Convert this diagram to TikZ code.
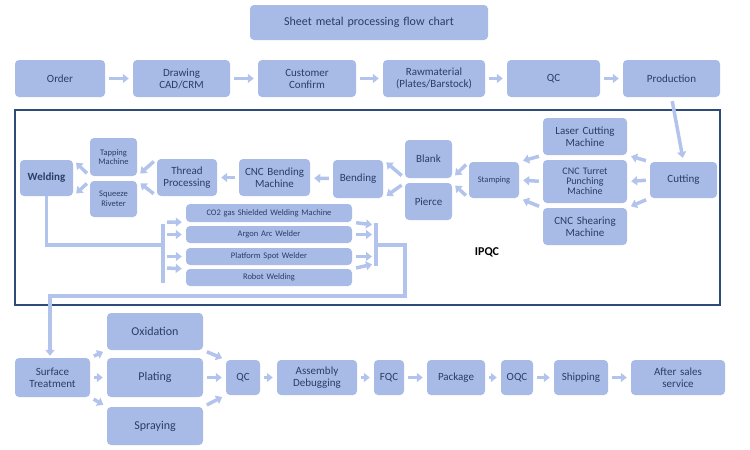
\documentclass[tikz,border=0pt]{standalone}
\usepackage{fontspec}
\setmainfont{Carlito}
\usetikzlibrary{arrows.meta}
\definecolor{bx}{HTML}{A7BBE6}
\definecolor{tx}{HTML}{2A3D66}
\definecolor{ar}{HTML}{B3C4EC}
\definecolor{fr}{HTML}{2E4A78}
\begin{document}
\begin{tikzpicture}[x=1pt,y=-1pt,
  b/.style={fill=bx,draw=none,rounded corners=4pt,text=tx,align=center,font=\fontsize{11}{12}\selectfont,inner sep=1pt},
  sm/.style={font=\fontsize{8.5}{9.5}\selectfont},
  arr/.style={draw=ar,line width=3.5pt,-{Triangle[width=9pt,length=6pt]},shorten >=4pt,shorten <=4pt},
  ln/.style={draw=ar,line width=3.5pt}]
\useasboundingbox (0,0) rectangle (750,450);
\newcommand{\bx}[6]{\node[b,#6,minimum width=#4-#2,minimum height=#5-#3] (#1) at ({(#2+#4)/2},{(#3+#5)/2}) {};}
\newcommand{\B}[7]{\node[b,#7,minimum width=#4-#2,minimum height=#5-#3,text width=#4-#2-2] (#1) at ({(#2+#4)/2},{(#3+#5)/2}) {#6};}
\B{title}{250}{5}{488}{40}{Sheet metal processing flow chart}{font=\fontsize{12}{13}\selectfont}
\B{order}{15}{60}{105}{97}{Order}{}
\B{draw}{133}{60}{230}{97}{Drawing\\CAD/CRM}{}
\B{cust}{258}{60}{356}{97}{Customer\\Confirm}{}
\B{raw}{383}{60}{485}{97}{Rawmaterial\\(Plates/Barstock)}{}
\B{qc1}{507}{60}{600}{97}{QC}{}
\B{prod}{623}{60}{720}{97}{Production}{}
\foreach \a/\c in {order/draw,draw/cust,cust/raw,raw/qc1,qc1/prod} \draw[arr] (\a) -- (\c);
\draw[fr,line width=1.6pt] (15,110) rectangle (720,305);
\B{cut}{650}{162}{717}{198}{Cutting}{}
\B{laser}{543}{118}{627}{155}{Laser Cutting\\Machine}{}
\B{turret}{543}{160}{627}{203}{CNC Turret\\Punching\\Machine}{font=\fontsize{10}{10}\selectfont}
\B{shear}{543}{208}{627}{245}{CNC Shearing\\Machine}{}
\B{stamp}{469}{162}{519}{198}{Stamping}{sm}
\B{blank}{405}{140}{452}{178}{Blank}{}
\B{pierce}{405}{183}{452}{220}{Pierce}{}
\B{bend}{333}{160}{383}{198}{Bending}{}
\B{cncb}{239}{159}{310}{196}{CNC Bending\\Machine}{}
\B{thread}{157}{159}{217}{196}{Thread\\Processing}{}
\B{tap}{90}{138}{137}{176}{Tapping\\Machine}{sm}
\B{sq}{90}{181}{137}{217}{Squeeze\\Riveter}{sm}
\B{weld}{20}{160}{73}{196}{Welding}{font=\fontsize{11}{12}\selectfont\bfseries}
\B{w1}{186}{204}{352}{222}{CO2 gas Shielded Welding Machine}{sm}
\B{w2}{186}{226}{352}{243}{Argon Arc Welder}{sm}
\B{w3}{186}{248}{352}{265}{Platform Spot Welder}{sm}
\B{w4}{186}{269}{352}{286}{Robot Welding}{sm}
\node[font=\fontsize{12}{13}\selectfont\bfseries] (ipqc) at (487,252) {IPQC};
\draw[arr] (prod.south) -- (cut.north);
\draw[arr] (cut.north west) -- (laser.south east);
\draw[arr] (cut.west) -- (turret.east);
\draw[arr] (cut.south west) -- (shear.north east);
\draw[arr] (laser.south west) -- (stamp.north east);
\draw[arr] (turret.west) -- (stamp.east);
\draw[arr] (shear.north west) -- (stamp.south east);
\draw[arr] (stamp.north west) -- (blank.south east);
\draw[arr] (stamp.south west) -- (pierce.north east);
\draw[arr] (blank.south west) -- (bend.north east);
\draw[arr] (pierce.north west) -- (bend.south east);
\draw[arr] (bend) -- (cncb);
\draw[arr] (cncb) -- (thread);
\draw[arr] (thread.north west) -- (tap.south east);
\draw[arr] (thread.south west) -- (sq.north east);
\draw[arr] (tap.south west) -- (weld.north east);
\draw[arr] (sq.north west) -- (weld.south east);
\coordinate (lb1) at (163,224); \coordinate (lb2) at (163,283);
\coordinate (rb1) at (376,223); \coordinate (rb2) at (376,266);
\draw[ln] (lb1) -- (lb2);
\draw[ln] (rb1) -- (rb2);
\draw[ln] (weld.south) -- (46.5,245) -- (163,245);
\draw[arr,shorten <=2pt] (165,222) -- (w1.south west);
\draw[arr,shorten <=2pt] (165,234.5) -- (w2.west);
\draw[arr,shorten <=2pt] (165,256.5) -- (w3.west);
\draw[arr,shorten <=2pt] (165,268) -- (w4.north west);
\draw[arr,shorten >=2pt] (w1.south east) -- (374,225);
\draw[arr,shorten >=2pt] (w2.east) -- (374,234.5);
\draw[arr,shorten >=2pt] (w3.east) -- (374,256.5);
\draw[arr,shorten >=2pt] (w4.north east) -- (374,264);
\B{surf}{15}{358}{90}{397}{Surface\\Treatment}{}
\B{ox}{107}{313}{203}{350}{Oxidation}{font=\fontsize{12}{13}\selectfont}
\B{plat}{107}{358}{203}{397}{Plating}{font=\fontsize{12}{13}\selectfont}
\B{spray}{107}{407}{203}{445}{Spraying}{font=\fontsize{12}{13}\selectfont}
\B{qc2}{226}{360}{260}{395}{QC}{}
\B{asm}{277}{360}{357}{395}{Assembly\\Debugging}{}
\B{fqc}{374}{360}{404}{395}{FQC}{}
\B{pack}{427}{360}{485}{395}{Package}{}
\B{oqc}{501}{360}{533}{395}{OQC}{}
\B{ship}{554}{360}{608}{395}{Shipping}{}
\B{after}{631}{360}{725}{395}{After sales\\service}{}
\coordinate (down) at (50,352);
\draw[ln] (376,245) -- (405,245) -- (405,296) -- (50,296);
\draw[arr,shorten <=0pt,shorten >=2pt] (50,294.25) -- (surf.north -| down);
\draw[arr] (surf.north east) -- (ox.south west);
\draw[arr] (surf) -- (plat);
\draw[arr] (surf.south east) -- (spray.north west);
\draw[arr] (ox.south east) -- (qc2.north west);
\draw[arr] (plat) -- (qc2);
\draw[arr] (spray.north east) -- (qc2.south west);
\foreach \a/\c in {qc2/asm,asm/fqc,fqc/pack,pack/oqc,oqc/ship,ship/after} \draw[arr] (\a) -- (\c);
\end{tikzpicture}
\end{document}
